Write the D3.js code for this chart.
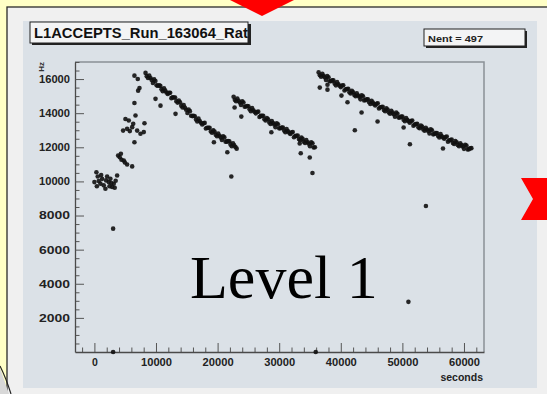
<!DOCTYPE html>
<html>
<head>
<meta charset="utf-8">
<script src="https://cdn.jsdelivr.net/npm/d3@7"></script>
<style>
    body { margin: 0; background: #ffffc6; }
    svg { display: block; }
</style>
</head>
<body>
<div id="box-div"></div>
<script>
const svgname = 'rate-svg'

// 数据: [seconds, Hz]
// early part of the run (scattered + ramp up)
const rampPoints = [
    [0, 9960], [325, 10540], [540, 10290], [700, 10020], [975, 9870], [1250, 10150],
    [1510, 9770], [1790, 9570], [2065, 10290], [2330, 9960], [2600, 10160], [2880, 9670],
    [3140, 9860], [3300, 9630], [3690, 10350], [3040, 7230],
    [400, 9720], [1100, 10380], [1900, 10060], [2450, 9720], [3450, 10040], [2750, 9900],
    [3850, 11520], [4110, 11420], [4390, 11270], [4770, 11230], [5310, 10990], [6130, 10880],
    [4300, 11620], [4950, 11110],
    [4660, 12980], [5040, 13660], [5310, 13080], [5580, 13570], [6130, 13180], [6500, 12300],
    [6940, 12980], [7480, 12790], [8020, 12890], [8130, 13410], [6670, 13860], [6500, 14600],
    [5750, 12950], [6300, 13380],
    [7100, 15320], [7320, 15480], [7040, 16000], [6500, 16200]
]
// first fill
const segB = [
    [8300, 16360], [8700, 16060], [9100, 16060], [9500, 15770], [9900, 15890], [10300, 15610],
    [10700, 15600], [11100, 15290], [11500, 15320], [11900, 15120], [12300, 15200], [12700, 14930],
    [13100, 14920], [13500, 14620], [13900, 14640], [14300, 14330], [14700, 14320], [15100, 14010],
    [15500, 14120], [15900, 13830], [16300, 13820], [16700, 13510], [17100, 13540], [17500, 13340],
    [17900, 13430], [18300, 13150], [18700, 13150], [19100, 12850], [19500, 12920], [19900, 12650],
    [20300, 12680], [20700, 12430], [21100, 12580], [21500, 12330], [21900, 12350], [22300, 12060],
    [22700, 12110], [23100, 11920],
    [8500, 16170], [8900, 16210], [9300, 15950], [9700, 15980], [10100, 15630], [10500, 15630],
    [10900, 15400], [11300, 15460], [11700, 15210], [12100, 15190], [12500, 14880], [12900, 14920],
    [13300, 14700], [13700, 14740], [14100, 14440], [14500, 14470], [14900, 14200], [15300, 14210],
    [15700, 13850], [16100, 13850], [16500, 13630], [16900, 13680], [17300, 13440], [17700, 13410],
    [18100, 13100], [18500, 13140], [18900, 12930], [19300, 12990], [19700, 12740], [20100, 12810],
    [20500, 12580], [20900, 12650], [21300, 12330], [21700, 12360], [22100, 12170], [22500, 12240],
    [22900, 12010]
]
// second fill
const segC = [
    [22600, 14960], [23000, 14700], [23400, 14730], [23800, 14480], [24200, 14630], [24600, 14390],
    [25000, 14410], [25400, 14120], [25800, 14170], [26200, 13990], [26600, 14090], [27000, 13840],
    [27400, 13850], [27800, 13570], [28200, 13640], [28600, 13370], [29000, 13420], [29400, 13180],
    [29800, 13350], [30200, 13120], [30600, 13160], [31000, 12880], [31400, 12950], [31800, 12780],
    [32200, 12900], [32600, 12660], [33000, 12690], [33400, 12420], [33800, 12500], [34200, 12250],
    [34600, 12300], [35000, 12060], [35400, 12230], [35800, 12000],
    [22800, 14780], [23200, 14860], [23600, 14630], [24000, 14700], [24400, 14380], [24800, 14420],
    [25200, 14230], [25600, 14300], [26000, 14080], [26400, 14070], [26800, 13780], [27200, 13840],
    [27600, 13640], [28000, 13710], [28400, 13460], [28800, 13540], [29200, 13330], [29600, 13410],
    [30000, 13110], [30400, 13160], [30800, 12980], [31200, 13070], [31600, 12860], [32000, 12870],
    [32400, 12590], [32800, 12670], [33200, 12480], [33600, 12570], [34000, 12330], [34400, 12420],
    [34800, 12210], [35200, 12290], [35600, 11990]
]
// third fill
const segD = [
    [36400, 16390], [36800, 16140], [37200, 16190], [37600, 15950], [38000, 16110], [38400, 15880],
    [38800, 15920], [39200, 15630], [39600, 15700], [40000, 15530], [40400, 15640], [40800, 15400],
    [41200, 15430], [41600, 15160], [42000, 15230], [42400, 14990], [42800, 15040], [43200, 14810],
    [43600, 14990], [44000, 14770], [44400, 14810], [44800, 14540], [45200, 14620], [45600, 14450],
    [46000, 14580], [46400, 14350], [46800, 14380], [47200, 14120], [47600, 14210], [48000, 13970],
    [48400, 14030], [48800, 13790], [49200, 13970], [49600, 13750], [50000, 13800], [50400, 13530],
    [50800, 13610], [51200, 13440], [51600, 13570], [52000, 13340], [52400, 13380], [52800, 13120],
    [53200, 13210], [53600, 12970], [54000, 13040], [54400, 12810], [54800, 13000], [55200, 12780],
    [55600, 12840], [56000, 12570], [56400, 12650], [56800, 12500], [57200, 12630], [57600, 12410],
    [58000, 12450], [58400, 12200], [58800, 12300], [59200, 12060], [59600, 12130], [60000, 11910],
    [60400, 12100], [60800, 11890], [61200, 11950],
    [36600, 16220], [37000, 16310], [37400, 16100], [37800, 16170], [38200, 15870], [38600, 15920],
    [39000, 15740], [39400, 15820], [39800, 15610], [40200, 15620], [40600, 15330], [41000, 15410],
    [41400, 15220], [41800, 15310], [42200, 15070], [42600, 15160], [43000, 14960], [43400, 15050],
    [43800, 14750], [44200, 14810], [44600, 14640], [45000, 14730], [45400, 14530], [45800, 14550],
    [46200, 14270], [46600, 14360], [47000, 14180], [47400, 14280], [47800, 14040], [48200, 14140],
    [48600, 13940], [49000, 14030], [49400, 13740], [49800, 13800], [50200, 13620], [50600, 13720],
    [51000, 13520], [51400, 13540], [51800, 13270], [52200, 13360], [52600, 13170], [53000, 13270],
    [53400, 13050], [53800, 13150], [54200, 12960], [54600, 13050], [55000, 12760], [55400, 12830],
    [55800, 12660], [56200, 12770], [56600, 12570], [57000, 12600], [57400, 12330], [57800, 12420],
    [58200, 12250], [58600, 12360], [59000, 12140], [59400, 12240], [59800, 12050], [60200, 12150],
    [60600, 11870], [61000, 11940]
]
// points off the main curves
const outliers = [
    [9920, 14840], [10730, 14440], [13170, 13960], [19400, 12300], [21580, 11710], [22230, 10290],
    [22760, 14330], [23850, 13800], [28730, 12880], [33330, 12220], [33500, 11650], [34960, 11400],
    [35400, 10490],
    [36590, 15500], [37840, 15670], [37840, 15380], [40110, 15030], [41090, 14640], [43370, 14040],
    [42280, 13000], [45970, 13510], [50200, 13160], [51220, 12180], [56590, 11930], [53820, 8560],
    [50980, 2940],
    [3040, 0], [35930, 0]
]
const xMajor = [0, 10000, 20000, 30000, 40000, 50000, 60000]
const yMajor = [2000, 4000, 6000, 8000, 10000, 12000, 14000, 16000]
const titleText = 'L1ACCEPTS_Run_163064_Rate'
const statText = 'Nent = 497'
const xTitle = 'seconds'
const yTitle = 'Hz'
const bigLabel = 'Level 1'

let dms = {
    width: 547,
    height: 394,
    frame: { left: 75, right: 484, top: 62, bottom: 352 }
}

const box = d3.select('#box-div').append('svg')
    .attr('id', svgname)
    .attr('width', dms.width)
    .attr('height', dms.height)

// 背景
box.append('rect')
    .attr('width', dms.width).attr('height', dms.height)
    .attr('fill', '#ffffc6')
box.append('rect')
    .attr('x', 7).attr('y', 7)
    .attr('width', 560).attr('height', 400)
    .attr('fill', '#f0f0f0')
    .attr('stroke', '#2a2a2a').attr('stroke-width', 1.3)
// bottom left corner
box.append('path')
    .attr('d', 'M0,368 L9,394 L0,394 Z')
    .attr('fill', '#d8d8d8')
box.append('path')
    .attr('d', 'M0,366 Q6,378 11,394')
    .attr('fill', 'none')
    .attr('stroke', '#222').attr('stroke-width', 1.2)
// canvas
box.append('rect')
    .attr('x', 23).attr('y', 21)
    .attr('width', 514).attr('height', 367)
    .attr('fill', '#dbe1e7')

// 比例尺
const xScale = d3.scaleLinear()
    .domain([-3150, 63250])
    .range([dms.frame.left, dms.frame.right])
const yScale = d3.scaleLinear()
    .domain([0, 17000])
    .range([dms.frame.bottom, dms.frame.top])

const content = box.append('g').attr('id', 'content')

// frame top / right
content.append('path')
    .attr('d', `M${dms.frame.left},${dms.frame.top}H${dms.frame.right}V${dms.frame.bottom}`)
    .attr('fill', 'none')
    .attr('stroke', '#8a9097')
    .attr('stroke-width', 1.5)

const xMinor = d3.range(-2000, 63001, 2000).filter(v => v % 10000 !== 0)
const yMinor = d3.range(500, 17001, 500).filter(v => v % 2000 !== 0)

// 小刻度
content.append('g')
    .attr('class', 'axis-x-minor')
    .attr('transform', `translate(0, ${dms.frame.bottom})`)
    .call(d3.axisBottom(xScale).tickValues(xMinor).tickSizeInner(-4.5).tickSizeOuter(0).tickFormat(''))
content.append('g')
    .attr('class', 'axis-y-minor')
    .attr('transform', `translate(${dms.frame.left}, 0)`)
    .call(d3.axisLeft(yScale).tickValues(yMinor).tickSizeInner(-4.5).tickSizeOuter(0).tickFormat(''))

// 绘制x轴
content.append('g')
    .attr('class', 'axis-x')
    .attr('transform', `translate(0, ${dms.frame.bottom})`)
    .call(d3.axisBottom(xScale).tickValues(xMajor).tickSizeInner(-9).tickSizeOuter(0).tickPadding(7).tickFormat(d3.format('d')))
// 绘制y轴
content.append('g')
    .attr('class', 'axis-y')
    .attr('transform', `translate(${dms.frame.left}, 0)`)
    .call(d3.axisLeft(yScale).tickValues(yMajor).tickSizeInner(-9).tickSizeOuter(0).tickPadding(5).tickFormat(d3.format('d')))

content.selectAll('.domain').attr('stroke', '#4a4a4a').attr('stroke-width', 1.3)
content.selectAll('.tick line').attr('stroke', '#555')
content.selectAll('.axis-x-minor .domain, .axis-y-minor .domain').remove()
content.selectAll('.axis-x text, .axis-y text')
    .attr('font-family', 'Liberation Sans, Arial, sans-serif')
    .attr('font-size', 10.5)
    .attr('font-weight', 'bold')
    .attr('fill', '#222')
    .attr('textLength', 31)
    .attr('lengthAdjust', 'spacingAndGlyphs')
content.selectAll('.axis-x text')
    .filter(d => d === 0)
    .attr('textLength', null)

// 轴标题
content.append('text')
    .attr('x', dms.frame.right - 1)
    .attr('y', 381)
    .attr('text-anchor', 'end')
    .attr('font-family', 'Liberation Sans, Arial, sans-serif')
    .attr('font-size', 10.5)
    .attr('font-weight', 'bold')
    .attr('fill', '#222')
    .text(xTitle)
content.append('text')
    .attr('transform', `translate(44, ${dms.frame.top}) rotate(-90)`)
    .attr('text-anchor', 'end')
    .attr('font-family', 'Liberation Sans, Arial, sans-serif')
    .attr('font-size', 8)
    .attr('font-weight', 'bold')
    .attr('fill', '#333')
    .text(yTitle)

// 数据点
const allPoints = [...rampPoints, ...segB, ...segC, ...segD, ...outliers]
content.selectAll('.dot')
    .data(allPoints)
    .enter()
    .append('circle')
    .attr('class', 'dot')
    .attr('cx', d => xScale(d[0]))
    .attr('cy', d => yScale(d[1]))
    .attr('r', 2.3)
    .attr('fill', '#111')
    .attr('fill-opacity', 0.9)

// 标题框
box.append('clipPath').attr('id', 'title-clip')
    .append('rect').attr('x', 30).attr('y', 22).attr('width', 218).attr('height', 21)
box.append('rect')
    .attr('x', 32).attr('y', 24).attr('width', 219).attr('height', 21)
    .attr('fill', '#222')
box.append('rect')
    .attr('x', 30).attr('y', 22).attr('width', 218).attr('height', 21)
    .attr('fill', '#f3f4f5').attr('stroke', '#222').attr('stroke-width', 1)
box.append('text')
    .attr('x', 34).attr('y', 37.5)
    .attr('clip-path', 'url(#title-clip)')
    .attr('font-family', 'Liberation Sans, Arial, sans-serif')
    .attr('font-size', 14)
    .attr('font-weight', 'bold')
    .attr('fill', '#111')
    .attr('textLength', 222)
    .attr('lengthAdjust', 'spacingAndGlyphs')
    .text(titleText)

// 统计框
box.append('rect')
    .attr('x', 426).attr('y', 31).attr('width', 101).attr('height', 17)
    .attr('fill', '#222')
box.append('rect')
    .attr('x', 424).attr('y', 29).attr('width', 101).attr('height', 17)
    .attr('fill', '#f3f4f5').attr('stroke', '#222').attr('stroke-width', 1)
box.append('text')
    .attr('x', 428).attr('y', 41.5)
    .attr('font-family', 'Liberation Sans, Arial, sans-serif')
    .attr('font-size', 9.5)
    .attr('font-weight', 'bold')
    .attr('fill', '#222')
    .attr('textLength', 55)
    .attr('lengthAdjust', 'spacingAndGlyphs')
    .text(statText)

// 大标签
box.append('text')
    .attr('x', 190).attr('y', 298)
    .attr('font-family', 'Liberation Serif, Times New Roman, serif')
    .attr('font-size', 62)
    .attr('fill', '#000')
    .text(bigLabel)

// 红色箭头
box.append('path')
    .attr('d', 'M230,0 L294,0 L262,16 Z')
    .attr('fill', '#ff0000')
box.append('path')
    .attr('d', 'M521,178 L547,178 L547,220 L521,220 L533,199 Z')
    .attr('fill', '#ff0000')
</script>
</body>
</html>
